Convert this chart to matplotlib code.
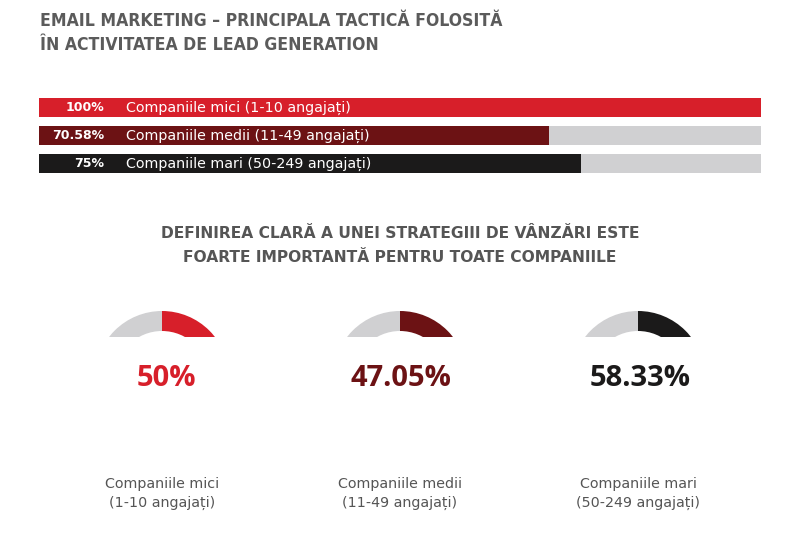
import matplotlib
matplotlib.use("Agg")
import matplotlib.pyplot as plt
from matplotlib.patches import Wedge, Rectangle

# ---------------- data ----------------
title_lines = ["EMAIL MARKETING – PRINCIPALA TACTICĂ FOLOSITĂ",
               "ÎN ACTIVITATEA DE LEAD GENERATION"]
bar_labels = ["Companiile mici (1-10 angajați)",
              "Companiile medii (11-49 angajați)",
              "Companiile mari (50-249 angajați)"]
bar_values = [100, 70.58, 75]
bar_value_text = ["100%", "70.58%", "75%"]

subtitle_lines = ["DEFINIREA CLARĂ A UNEI STRATEGIII DE VÂNZĂRI ESTE",
                  "FOARTE IMPORTANTĂ PENTRU TOATE COMPANIILE"]
gauge_values_text = ["50%", "47.05%", "58.33%"]
gauge_labels = [["Companiile mici", "(1-10 angajați)"],
                ["Companiile medii", "(11-49 angajați)"],
                ["Companiile mari", "(50-249 angajați)"]]

# ---------------- style ----------------
colors = ["#d71f2a", "#6c1214", "#1b1a1a"]
track = "#d0d0d2"
title_col = "#5b5b5b"
text_col = "#555555"
W, H = 800, 533

fig = plt.figure(figsize=(W / 100, H / 100), dpi=100)
fig.patch.set_facecolor("white")
ax = fig.add_axes([0, 0, 1, 1])
ax.set_xlim(0, W)
ax.set_ylim(H, 0)
ax.axis("off")

# titles
for k, line in enumerate(title_lines):
    ax.text(40, 21.5 + k * 23.5, line, fontsize=12.6, fontweight="bold", color=title_col,
            family="DejaVu Sans", fontstretch="condensed", ha="left", va="center")

# bars
bx0, bx1 = 39, 761
by0, by1 = 93.5, 177.5
axb = fig.add_axes([bx0 / W, 1 - by1 / H, (bx1 - bx0) / W, (by1 - by0) / H])
axb.set_xlim(0, 100)
axb.set_ylim(2.5, -0.5)
axb.axis("off")
ypos = list(range(len(bar_values)))
axb.barh(ypos, [100] * len(bar_values), height=0.69, color=track, linewidth=0)
axb.barh(ypos, bar_values, height=0.69, color=colors, linewidth=0)
for i, y in enumerate(ypos):
    axb.text(9.0, y, bar_value_text[i], ha="right", va="center", color="white",
             fontsize=9, fontweight="bold", family="DejaVu Sans")
    axb.text(12.0, y, bar_labels[i], ha="left", va="center", color="white",
             fontsize=10.3, family="DejaVu Sans")

# subtitle
for k, line in enumerate(subtitle_lines):
    ax.text(400, 234 + k * 23, line, ha="center", va="center", fontsize=11.2,
            fontweight="bold", color=text_col, family="DejaVu Sans")

# gauges
centers = [162, 400, 638]
cy, R, r, clip_y = 378, 67, 47, 337
text_x = [166, 401, 640]
for i, cx in enumerate(centers):
    clip = Rectangle((cx - 100, clip_y - 100), 200, 100, transform=ax.transData)
    w1 = Wedge((cx, cy), R, 180, 270, width=R - r, facecolor=track, linewidth=0)
    w2 = Wedge((cx, cy), R, 270, 360, width=R - r, facecolor=colors[i], linewidth=0)
    for w in (w1, w2):
        ax.add_patch(w)
        w.set_clip_path(clip)
    ax.text(text_x[i], 379, gauge_values_text[i], ha="center", va="center",
            fontsize=21, fontweight="bold", color=colors[i], family="Open Sans")
    for k in range(2):
        ax.text(cx, 484 + k * 19, gauge_labels[i][k], ha="center", va="center",
                fontsize=10.3, color=text_col, family="DejaVu Sans")

fig.savefig("out.png", dpi=100, facecolor="white")
